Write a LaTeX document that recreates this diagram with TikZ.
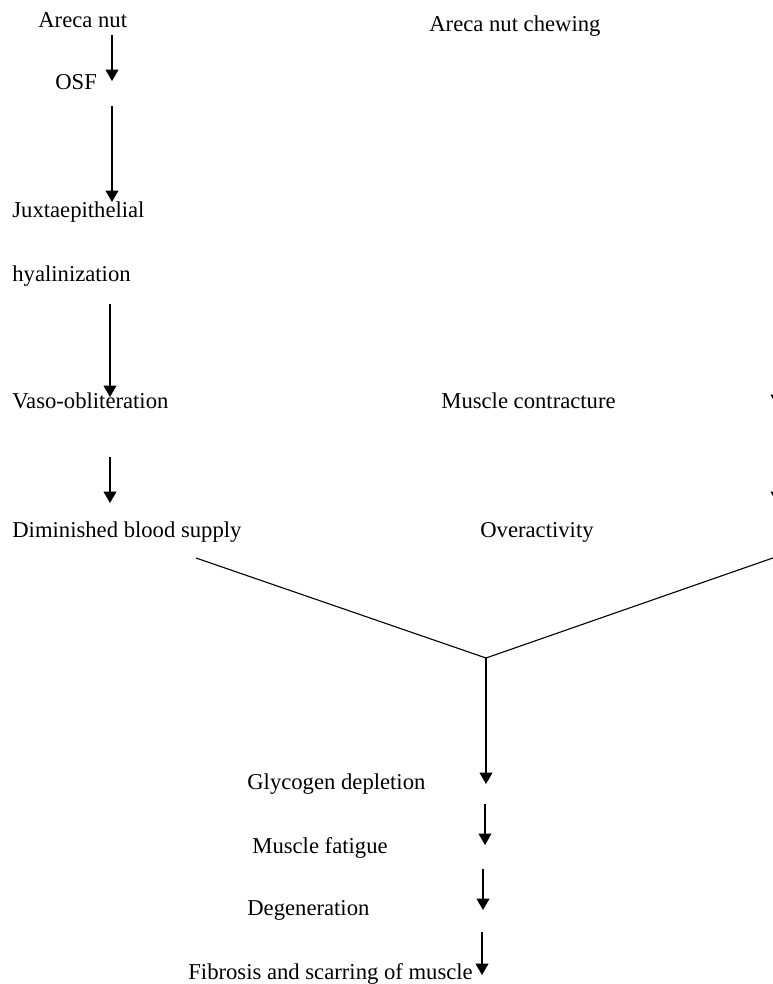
\documentclass[tikz,border=0pt]{standalone}
\usepackage{fontspec}
\setmainfont{Liberation Serif}
\usetikzlibrary{arrows}

\begin{document}
\begin{tikzpicture}
		[x=0.5385pt,y=-0.5385pt,
		step text/.style= {anchor=base west,inner sep=0pt,font=\fontsize{12.2}{14}\selectfont},
		flow/.style= {line width=0.65pt,-triangle 60},
		arm/.style= {line width=0.6pt}]

		\useasboundingbox (0,0) rectangle (773,984);
		\clip (0,0) rectangle (773,984);

		% left column
		\node[step text] (areca) at ( 38,28) {Areca nut};
		\node[step text] (osf) at ( 55,90) {OSF};
		\node[step text] (juxta) at ( 12,218) {Juxtaepithelial};
		\node[step text] (hyal) at ( 12,281) {hyalinization};
		\node[step text] (vaso) at ( 12,408) {Vaso-obliteration};
		\node[step text] (blood) at ( 12,537) {Diminished blood supply};

		% right column
		\node[step text] (chewing) at ( 429,32) {Areca nut chewing};
		\node[step text] (contract) at ( 441,408) {Muscle contracture};
		\node[step text] (overact) at ( 480,537) {Overactivity};

		% bottom column
		\node[step text] (glyco) at ( 247,789) {Glycogen depletion};
		\node[step text] (fatigue) at ( 252,853) {Muscle fatigue};
		\node[step text] (degen) at ( 247,915) {Degeneration};
		\node[step text] (fibro) at ( 188,979) {Fibrosis and scarring of muscle};

		\coordinate (a1s) at (112,35);  \coordinate (a1e) at (112,81);
		\coordinate (a2s) at (112,106); \coordinate (a2e) at (112,202);
		\coordinate (a3s) at (110,304); \coordinate (a3e) at (110,397);
		\coordinate (a4s) at (110,457); \coordinate (a4e) at (110,503);
		\coordinate (r1s) at (777,360); \coordinate (r1e) at (777,406);
		\coordinate (r2s) at (777,457); \coordinate (r2e) at (777,503);

		\coordinate (vl) at (196,558);
		\coordinate (vr) at (790,552);
		\coordinate (join) at (486,658);

		\coordinate (b1e) at (486,784);
		\coordinate (b2s) at (485,804); \coordinate (b2e) at (485,845);
		\coordinate (b3s) at (483,869); \coordinate (b3e) at (483,910);
		\coordinate (b4s) at (482,932); \coordinate (b4e) at (482,975);

		\draw[flow] (a1s) -- (a1e);
		\draw[flow] (a2s) -- (a2e);
		\draw[flow] (a3s) -- (a3e);
		\draw[flow] (a4s) -- (a4e);
		\draw[flow] (r1s) -- (r1e);
		\draw[flow] (r2s) -- (r2e);

		\draw[arm] (vl) -- (join) -- (vr);
		\draw[flow] (join) -- (b1e);
		\draw[flow] (b2s) -- (b2e);
		\draw[flow] (b3s) -- (b3e);
		\draw[flow] (b4s) -- (b4e);

	\end{tikzpicture}
\end{document}
